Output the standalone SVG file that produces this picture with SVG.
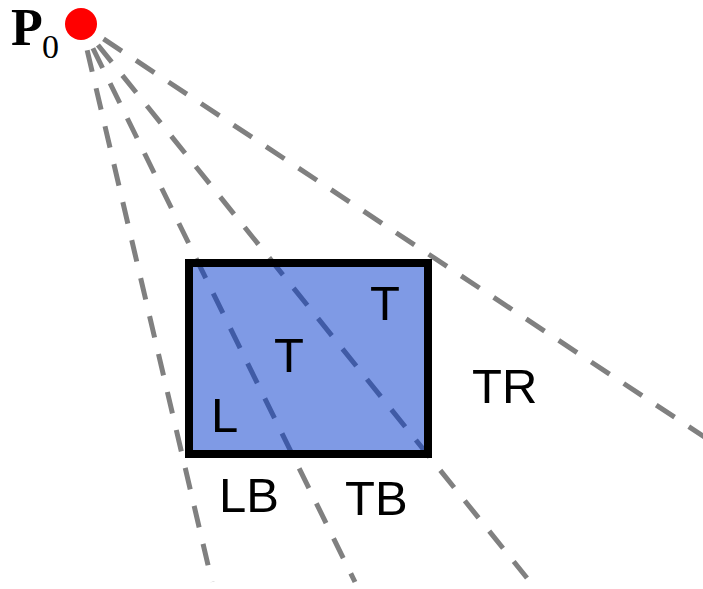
<svg xmlns="http://www.w3.org/2000/svg" width="703" height="589" viewBox="0 0 703 589">
<style>
.ray{stroke:#808080;stroke-width:5;stroke-dasharray:22 17;stroke-dashoffset:12;fill:none}
.lbl{font-family:"Liberation Sans",Arial,sans-serif;font-size:49px;fill:#000}
.p{font-family:"Liberation Serif","Times New Roman",serif;fill:#000}
</style>
<rect width="703" height="589" fill="#fff"/>
<g id="connectors">
<line class="ray" x1="81" y1="24" x2="212" y2="582"/>
<line class="ray" x1="81" y1="24" x2="355" y2="582"/>
<line class="ray" x1="81" y1="24" x2="527" y2="578"/>
<line class="ray" x1="81" y1="24" x2="706" y2="438"/>
</g>
<g id="box">
<rect x="189" y="263" width="239" height="191" fill="rgb(0,53,203)" fill-opacity="0.5"/>
<rect x="189" y="263" width="239" height="191" fill="none" stroke="#000" stroke-width="8"/>
</g>
<g id="P0">
<circle cx="81" cy="24" r="16" fill="#ff0000"/>
<text class="p" x="11" y="45" font-size="52" font-weight="bold">P</text>
<text class="p" x="42" y="58" font-size="34">0</text>
</g>
<g id="labels">
<text class="lbl" x="370" y="320">T</text>
<text class="lbl" x="274" y="372">T</text>
<text class="lbl" x="211" y="432">L</text>
<text class="lbl" x="472" y="403">TR</text>
<text class="lbl" x="219" y="512">LB</text>
<text class="lbl" x="345" y="515">TB</text>
</g>
</svg>
